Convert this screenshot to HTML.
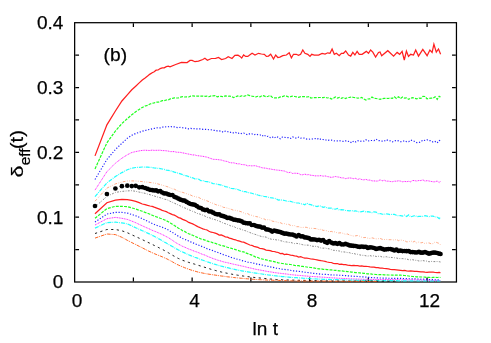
<!DOCTYPE html>
<html><head><meta charset="utf-8"><title>plot</title>
<style>
html,body{margin:0;padding:0;background:#fff;}
body{width:491px;height:343px;position:relative;overflow:hidden;font-family:"Liberation Sans",sans-serif;color:#000;}
svg{display:block;will-change:transform}
</style></head><body>
<svg width="491" height="343" viewBox="0 0 491 343" style="position:absolute;left:0;top:0"><rect width="491" height="343" fill="#fff"/><g stroke="#000" stroke-width="1.25" fill="none"><rect x="74.65" y="22.7" width="381.8" height="259.3"/><path d="M75.27 249.59h3.78M455.83 249.59h-3.78M75.27 217.18h3.78M455.83 217.18h-3.78M75.27 184.76h3.78M455.83 184.76h-3.78M75.27 152.35h3.78M455.83 152.35h-3.78M75.27 119.94h3.78M455.83 119.94h-3.78M75.27 87.52h3.78M455.83 87.52h-3.78M75.27 55.11h3.78M455.83 55.11h-3.78M133.39 281.38v-3.78M133.39 23.32v3.78M192.13 281.38v-3.78M192.13 23.32v3.78M250.87 281.38v-3.78M250.87 23.32v3.78M309.60 281.38v-3.78M309.60 23.32v3.78M368.34 281.38v-3.78M368.34 23.32v3.78M427.08 281.38v-3.78M427.08 23.32v3.78"/></g><path d="M95.0 155.9L106.9 124.8L115.4 111.0L121.9 101.0L127.3 94.8L131.8 89.8L135.7 86.2L139.2 82.9L142.3 80.0L145.1 78.0L147.6 76.1L150.0 74.1L152.2 72.7L154.2 71.7L156.1 70.2L158.1 70.0L160.2 68.6L162.2 67.9L164.2 67.9L166.3 66.7L168.3 66.2L170.0 66.8L175.7 64.5L181.4 62.4L187.1 62.5L190.0 60.4L192.1 60.4L195.0 61.7L198.5 61.1L202.8 59.5L204.9 58.3L207.4 60.3L211.4 58.5L215.6 58.3L218.5 57.5L221.6 59.5L225.6 58.5L228.2 56.8L232.0 58.5L234.9 55.4L238.0 55.2L240.0 56.4L241.7 58.1L243.6 55.0L245.7 56.4L247.8 56.4L250.0 54.7L252.1 53.3L255.0 55.0L258.5 53.3L261.4 54.0L264.3 54.3L266.4 56.4L268.5 56.1L270.7 54.3L273.5 59.0L275.7 55.0L277.8 57.5L279.9 57.1L282.8 55.7L286.4 55.0L289.2 52.8L291.4 57.8L293.5 54.3L296.3 54.3L298.5 55.4L300.6 54.3L302.8 50.0L304.9 53.3L307.8 54.3L310.0 56.4L311.7 54.3L314.3 55.0L318.6 55.0L322.1 53.5L325.0 54.0L327.8 52.8L330.0 53.3L332.1 49.0L334.3 54.3L336.4 53.3L339.2 55.7L341.4 53.3L343.5 53.3L345.7 51.0L348.5 55.0L350.7 56.1L352.8 52.4L354.9 55.0L357.1 51.4L359.2 54.3L362.1 54.3L366.3 51.4L368.5 53.3L370.6 50.0L372.8 52.1L375.6 57.1L378.5 52.4L380.0 51.9L381.7 55.7L387.8 50.7L393.6 56.1L397.1 52.4L399.7 54.3L402.1 51.4L404.3 60.0L406.4 51.0L408.5 56.4L410.7 54.3L413.5 55.0L415.7 50.0L418.5 56.1L422.8 49.3L427.1 55.7L429.9 50.0L432.1 52.4L433.9 44.3L436.3 52.1L438.5 49.0L440.6 54.3" fill="none" stroke-opacity="0.88" stroke="#ff0000" stroke-width="1.25"/><path d="M95.0 168.9L106.9 142.8L115.4 131.0L121.9 123.5L127.3 118.6L131.8 114.8L135.7 111.7L139.2 109.4L142.3 107.4L145.1 106.0L147.6 105.4L150.0 104.0L152.2 103.3L154.2 102.8L156.1 102.2L158.1 102.2L160.2 101.5L162.2 100.7L164.2 100.7L166.3 100.0L168.3 99.8L170.3 98.9L172.4 98.4L174.4 97.9L176.4 98.0L178.5 97.9L180.5 97.2L182.6 96.7L184.6 97.0L186.6 96.9L188.7 97.0L190.7 96.2L192.7 95.9L194.8 96.2L196.8 96.0L198.9 96.1L200.9 96.2L202.9 96.0L205.0 96.3L207.0 96.2L209.0 96.7L211.1 95.9L213.1 95.9L215.2 95.6L217.2 96.8L219.2 96.3L221.3 96.3L223.3 96.8L225.3 95.8L227.4 96.3L229.4 96.2L231.4 96.5L233.5 97.6L235.5 96.9L237.6 96.0L239.6 96.6L241.6 95.8L243.7 96.4L245.7 95.7L247.7 95.0L249.8 95.6L251.8 96.1L253.9 96.5L255.9 96.9L257.9 96.3L260.0 96.9L262.0 95.5L264.0 95.9L266.1 96.8L268.1 96.3L270.2 95.5L272.2 97.2L274.2 97.9L276.3 97.8L278.3 97.8L280.3 96.9L282.4 96.6L284.4 95.9L286.4 96.2L288.5 96.8L290.5 96.7L292.6 96.2L294.6 96.5L296.6 96.8L298.7 97.3L300.7 96.7L302.7 96.7L304.8 96.7L306.8 97.0L308.9 96.6L310.9 98.0L312.9 97.7L315.0 97.5L317.0 97.7L319.0 97.5L321.1 97.5L323.1 97.7L325.1 97.2L327.2 98.0L329.2 97.7L331.3 99.1L333.3 98.3L335.3 97.0L337.4 98.1L339.4 97.5L341.4 98.4L343.5 97.5L345.5 98.5L347.6 97.6L349.6 97.4L351.6 96.9L353.7 97.5L355.7 97.6L357.7 98.2L359.8 97.9L361.8 97.5L363.9 99.1L365.9 100.0L367.9 99.0L370.0 98.9L372.0 97.0L374.0 98.3L376.1 98.5L378.1 98.9L380.1 99.4L382.2 98.6L384.2 98.4L386.3 98.3L388.3 98.5L390.3 98.0L392.4 98.3L394.4 96.8L396.4 98.4L398.5 96.7L400.5 98.6L402.6 97.0L404.6 98.2L406.6 97.9L408.7 99.4L410.7 98.2L412.7 97.6L414.8 98.4L416.8 98.9L418.9 98.1L420.9 98.3L422.9 96.4L425.0 96.5L427.0 98.8L429.0 98.4L431.1 98.1L433.1 98.1L435.1 96.7L437.2 99.4L439.2 96.3L440.5 97.0" fill="none" stroke-opacity="0.88" stroke="#00ff00" stroke-width="1.2" stroke-dasharray="2.9 1.2"/><path d="M95.0 179.5L106.9 159.5L115.4 149.5L121.9 143.3L127.3 138.3L131.8 135.3L135.7 133.5L139.2 132.3L142.3 131.2L145.1 130.5L147.6 129.9L150.0 129.3L152.2 128.8L154.2 128.4L156.1 128.0L158.1 127.7L160.2 127.9L162.2 127.2L164.2 126.6L166.3 127.0L168.3 126.7L170.3 126.4L172.4 127.0L174.4 126.9L176.4 127.4L178.5 127.7L180.5 127.3L182.6 127.7L184.6 128.1L186.6 128.2L188.7 128.9L190.7 128.4L192.7 128.9L194.8 128.6L196.8 128.9L198.9 128.8L200.9 128.8L202.9 129.3L205.0 129.3L207.0 129.4L209.0 129.7L211.1 129.8L213.1 130.3L215.2 130.3L217.2 130.9L219.2 130.9L221.3 131.2L223.3 132.3L225.3 131.2L227.4 131.5L229.4 132.6L231.4 132.1L233.5 132.9L235.5 132.3L237.6 133.5L239.6 132.8L241.6 133.6L243.7 133.1L245.7 134.1L247.7 134.8L249.8 133.7L251.8 133.8L253.9 134.8L255.9 134.0L257.9 134.7L260.0 134.8L262.0 136.2L264.0 134.9L266.1 136.7L268.1 136.3L270.2 137.6L272.2 136.8L274.2 138.2L276.3 136.6L278.3 137.4L280.3 138.8L282.4 137.0L284.4 137.3L286.4 137.6L288.5 137.6L290.5 138.4L292.6 136.9L294.6 137.6L296.6 138.3L298.7 137.1L300.7 138.1L302.7 137.9L304.8 138.2L306.8 139.1L308.9 139.2L310.9 138.9L312.9 139.0L315.0 138.5L317.0 139.3L319.0 138.3L321.1 139.6L323.1 139.5L325.1 139.7L327.2 140.6L329.2 140.1L331.3 140.1L333.3 140.5L335.3 141.2L337.4 140.9L339.4 140.6L341.4 141.2L343.5 141.3L345.5 140.8L347.6 141.6L349.6 141.2L351.6 142.9L353.7 141.0L355.7 141.9L357.7 140.7L359.8 141.5L361.8 140.9L363.9 141.1L365.9 139.7L367.9 141.1L370.0 140.5L372.0 140.5L374.0 140.6L376.1 139.1L378.1 140.6L380.1 140.7L382.2 141.1L384.2 141.2L386.3 139.7L388.3 140.6L390.3 140.9L392.4 141.9L394.4 141.0L396.4 140.3L398.5 140.9L400.5 141.7L402.6 141.4L404.6 140.6L406.6 141.7L408.7 141.6L410.7 140.1L412.7 140.6L414.8 141.5L416.8 142.7L418.9 142.6L420.9 141.8L422.9 140.0L425.0 140.5L427.0 139.8L429.0 140.6L431.1 140.7L433.1 142.1L435.1 141.5L437.2 142.8L439.2 140.4L440.5 140.9" fill="none" stroke-opacity="0.88" stroke="#0000ff" stroke-width="1.15" stroke-dasharray="1.2 1.7"/><path d="M95.0 190.1L106.9 171.7L115.4 163.2L121.9 158.2L127.3 154.8L131.8 152.5L135.7 151.6L139.2 150.9L142.3 150.4L145.1 150.2L147.6 150.4L150.0 150.5L152.2 150.1L154.2 150.4L156.1 150.3L158.1 150.3L160.2 150.2L162.2 150.6L164.2 150.6L166.3 150.8L168.3 151.1L170.3 151.6L172.4 151.6L174.4 151.6L176.4 152.2L178.5 152.3L180.5 152.4L182.6 152.9L184.6 153.2L186.6 153.7L188.7 154.1L190.7 154.5L192.7 155.0L194.8 154.9L196.8 155.6L198.9 155.8L200.9 156.1L202.9 156.3L205.0 156.8L207.0 157.1L209.0 157.9L211.1 158.6L213.1 159.3L215.2 159.4L217.2 159.5L219.2 159.8L221.3 160.0L223.3 160.7L225.3 161.2L227.4 161.5L229.4 162.5L231.4 162.8L233.5 162.8L235.5 163.3L237.6 163.9L239.6 163.8L241.6 164.5L243.7 164.7L245.7 164.9L247.7 165.9L249.8 165.6L251.8 165.9L253.9 165.7L255.9 165.8L257.9 166.6L260.0 167.0L262.0 167.8L264.0 168.0L266.1 168.2L268.1 168.8L270.2 168.9L272.2 169.4L274.2 169.7L276.3 170.0L278.3 170.2L280.3 170.4L282.4 170.8L284.4 171.0L286.4 171.9L288.5 172.7L290.5 172.2L292.6 173.5L294.6 173.2L296.6 173.3L298.7 173.5L300.7 174.7L302.7 174.8L304.8 174.1L306.8 174.8L308.9 174.6L310.9 175.3L312.9 175.4L315.0 175.9L317.0 175.8L319.0 175.9L321.1 175.6L323.1 176.2L325.1 175.9L327.2 176.5L329.2 176.9L331.3 177.4L333.3 177.0L335.3 176.5L337.4 176.9L339.4 177.2L341.4 177.9L343.5 177.9L345.5 178.6L347.6 178.2L349.6 177.9L351.6 178.2L353.7 178.7L355.7 178.3L357.7 179.5L359.8 178.7L361.8 179.6L363.9 179.9L365.9 179.3L367.9 180.2L370.0 180.0L372.0 180.9L374.0 180.9L376.1 181.1L378.1 181.0L380.1 179.8L382.2 180.8L384.2 180.2L386.3 181.2L388.3 181.1L390.3 181.5L392.4 181.7L394.4 181.2L396.4 181.2L398.5 180.8L400.5 181.1L402.6 181.8L404.6 181.4L406.6 181.7L408.7 181.3L410.7 181.8L412.7 180.4L414.8 180.7L416.8 181.0L418.9 180.5L420.9 180.6L422.9 179.8L425.0 181.2L427.0 180.6L429.0 181.0L431.1 181.4L433.1 181.8L435.1 181.8L437.2 181.0L439.2 182.6L440.5 181.1" fill="none" stroke-opacity="0.88" stroke="#ff00ff" stroke-width="1.0" stroke-dasharray="1 0.7"/><path d="M95.0 196.6L106.9 182.9L115.4 176.6L121.9 172.6L127.3 169.8L131.8 168.1L135.7 167.5L139.2 167.3L142.3 167.0L145.1 167.1L147.6 167.2L150.0 167.3L152.2 167.5L154.2 168.0L156.1 168.1L158.1 168.3L160.2 168.6L162.2 169.0L164.2 169.4L166.3 170.1L168.3 170.3L170.3 170.8L172.4 171.4L174.4 172.1L176.4 172.7L178.5 173.3L180.5 173.9L182.6 174.6L184.6 175.6L186.6 175.8L188.7 176.6L190.7 177.4L192.7 177.8L194.8 178.9L196.8 178.8L198.9 179.3L200.9 180.7L202.9 180.7L205.0 181.3L207.0 181.6L209.0 181.9L211.1 182.7L213.1 183.6L215.2 183.8L217.2 184.2L219.2 184.6L221.3 185.1L223.3 185.8L225.3 186.6L227.4 187.0L229.4 187.7L231.4 188.5L233.5 188.6L235.5 188.8L237.6 189.5L239.6 190.2L241.6 191.0L243.7 191.6L245.7 191.5L247.7 192.7L249.8 192.7L251.8 193.3L253.9 194.0L255.9 194.3L257.9 195.0L260.0 195.6L262.0 195.9L264.0 196.4L266.1 196.7L268.1 197.2L270.2 197.7L272.2 197.9L274.2 198.3L276.3 198.8L278.3 200.1L280.3 199.8L282.4 200.1L284.4 200.5L286.4 201.0L288.5 201.5L290.5 201.4L292.6 202.0L294.6 202.5L296.6 202.9L298.7 203.0L300.7 203.8L302.7 203.9L304.8 204.8L306.8 203.2L308.9 204.4L310.9 204.6L312.9 205.6L315.0 206.0L317.0 206.6L319.0 205.8L321.1 206.2L323.1 207.3L325.1 206.8L327.2 208.1L329.2 208.0L331.3 208.2L333.3 209.2L335.3 209.2L337.4 208.4L339.4 210.1L341.4 209.6L343.5 209.8L345.5 210.5L347.6 210.6L349.6 210.8L351.6 210.6L353.7 211.1L355.7 210.8L357.7 211.6L359.8 212.0L361.8 211.6L363.9 211.2L365.9 212.0L367.9 211.7L370.0 212.1L372.0 212.7L374.0 211.8L376.1 212.1L378.1 213.6L380.1 213.5L382.2 214.1L384.2 214.3L386.3 213.8L388.3 214.1L390.3 214.6L392.4 214.3L394.4 214.4L396.4 215.3L398.5 215.8L400.5 215.6L402.6 216.1L404.6 215.1L406.6 216.4L408.7 214.9L410.7 216.9L412.7 216.2L414.8 215.6L416.8 216.6L418.9 216.4L420.9 216.4L422.9 216.3L425.0 215.7L427.0 216.1L429.0 216.7L431.1 216.0L433.1 216.2L435.1 217.0L437.2 216.9L439.2 218.7L440.5 217.3" fill="none" stroke-opacity="0.88" stroke="#00ffff" stroke-width="1.2" stroke-dasharray="4 1 0.8 1"/><path d="M95.0 201.2L106.9 188.1L115.4 183.9L121.9 182.0L127.3 181.0L131.8 180.9L135.7 181.0L139.2 181.3L142.3 181.6L145.1 182.0L147.6 182.1L150.0 182.5L152.2 182.7L154.2 183.1L156.1 183.4L158.1 184.0L160.2 184.5L162.2 185.2L164.2 185.7L166.3 186.4L168.3 187.0L170.3 187.9L172.4 188.8L174.4 189.2L176.4 190.3L178.5 191.2L180.5 191.9L182.6 192.4L184.6 193.0L186.6 193.7L188.7 194.4L190.7 195.1L192.7 196.1L194.8 196.5L196.8 197.1L198.9 197.5L200.9 198.7L202.9 199.6L205.0 200.0L207.0 200.9L209.0 201.6L211.1 202.9L213.1 203.3L215.2 204.4L217.2 205.1L219.2 205.5L221.3 206.1L223.3 207.3L225.3 207.6L227.4 208.1L229.4 208.8L231.4 209.4L233.5 210.2L235.5 210.3L237.6 210.8L239.6 211.3L241.6 211.9L243.7 212.8L245.7 213.9L247.7 213.6L249.8 215.0L251.8 215.3L253.9 216.2L255.9 216.5L257.9 216.9L260.0 217.5L262.0 218.8L264.0 218.8L266.1 220.1L268.1 219.6L270.2 220.0L272.2 221.1L274.2 221.5L276.3 221.8L278.3 222.6L280.3 222.7L282.4 223.7L284.4 223.6L286.4 224.3L288.5 224.3L290.5 225.3L292.6 225.6L294.6 225.6L296.6 226.7L298.7 226.7L300.7 227.4L302.7 227.5L304.8 227.2L306.8 227.4L308.9 228.2L310.9 228.3L312.9 228.4L315.0 228.5L317.0 228.8L319.0 229.7L321.1 229.2L323.1 230.4L325.1 230.3L327.2 230.9L329.2 231.8L331.3 231.4L333.3 232.0L335.3 231.8L337.4 233.1L339.4 232.9L341.4 232.8L343.5 233.6L345.5 234.3L347.6 234.0L349.6 235.1L351.6 235.6L353.7 236.1L355.7 235.8L357.7 235.5L359.8 236.2L361.8 237.3L363.9 237.6L365.9 237.5L367.9 238.2L370.0 238.5L372.0 237.8L374.0 238.4L376.1 238.9L378.1 238.7L380.1 238.4L382.2 239.3L384.2 239.5L386.3 239.4L388.3 239.7L390.3 239.7L392.4 239.7L394.4 240.2L396.4 239.4L398.5 240.7L400.5 239.9L402.6 240.4L404.6 240.7L406.6 241.8L408.7 241.9L410.7 240.7L412.7 242.1L414.8 241.3L416.8 243.0L418.9 242.0L420.9 242.9L422.9 242.4L425.0 243.7L427.0 242.9L429.0 242.9L431.1 243.8L433.1 243.6L435.1 241.8L437.2 242.7L439.2 243.4L440.5 244.8" fill="none" stroke-opacity="0.88" stroke="#ff6a2a" stroke-width="0.65" stroke-dasharray="2.8 1.5 0.7 1.5 0.7 1.5"/><path d="M95.0 206.9L106.9 196.4L115.4 192.4L121.9 191.4L127.3 190.9L131.8 190.7L135.7 191.3L139.2 192.1L142.3 192.8L145.1 193.3L147.6 194.1L150.0 194.7L152.2 195.4L154.2 196.0L156.1 196.6L158.1 197.2L160.2 197.7L162.2 198.3L164.2 199.2L166.3 199.5L168.3 200.3L170.3 201.4L172.4 202.3L174.4 203.2L176.4 204.1L178.5 205.1L180.5 206.0L182.6 207.1L184.6 207.9L186.6 208.7L188.7 209.7L190.7 210.5L192.7 211.4L194.8 212.1L196.8 213.4L198.9 213.8L200.9 214.4L202.9 215.2L205.0 216.1L207.0 217.3L209.0 217.6L211.1 218.4L213.1 219.2L215.2 219.7L217.2 220.5L219.2 221.1L221.3 222.1L223.3 223.1L225.3 223.7L227.4 224.4L229.4 225.3L231.4 226.2L233.5 226.3L235.5 227.5L237.6 228.4L239.6 228.7L241.6 229.6L243.7 230.3L245.7 230.8L247.7 231.7L249.8 232.5L251.8 233.3L253.9 234.0L255.9 234.6L257.9 235.4L260.0 236.0L262.0 236.7L264.0 236.8L266.1 237.1L268.1 238.2L270.2 238.9L272.2 239.4L274.2 239.4L276.3 239.9L278.3 239.9L280.3 240.7L282.4 241.1L284.4 241.9L286.4 241.9L288.5 242.4L290.5 242.4L292.6 243.0L294.6 243.6L296.6 243.4L298.7 243.7L300.7 244.2L302.7 244.7L304.8 245.1L306.8 245.1L308.9 245.2L310.9 245.8L312.9 246.3L315.0 246.3L317.0 246.4L319.0 247.3L321.1 248.1L323.1 248.2L325.1 248.0L327.2 248.6L329.2 248.8L331.3 249.6L333.3 250.3L335.3 250.4L337.4 250.8L339.4 251.0L341.4 251.9L343.5 251.9L345.5 252.1L347.6 252.6L349.6 252.7L351.6 253.5L353.7 253.5L355.7 254.1L357.7 254.3L359.8 254.9L361.8 255.3L363.9 255.3L365.9 255.8L367.9 256.1L370.0 255.6L372.0 256.2L374.0 255.7L376.1 256.5L378.1 256.3L380.1 256.2L382.2 257.0L384.2 257.0L386.3 256.7L388.3 257.3L390.3 257.4L392.4 257.5L394.4 257.8L396.4 258.0L398.5 258.5L400.5 258.6L402.6 258.6L404.6 258.9L406.6 259.0L408.7 259.7L410.7 259.9L412.7 259.7L414.8 260.3L416.8 260.3L418.9 261.0L420.9 260.9L422.9 260.6L425.0 261.0L427.0 261.1L429.0 261.8L431.1 261.4L433.1 261.6L435.1 261.6L437.2 261.5L439.2 261.7L440.5 262.0" fill="none" stroke-opacity="0.88" stroke="#666666" stroke-width="0.9" stroke-dasharray="1.8 1.4 0.8 1.4"/><path d="M95.0 213.8L106.9 202.7L115.4 200.2L121.9 199.3L127.3 199.6L131.8 200.4L135.7 201.4L139.2 202.7L142.3 204.0L145.1 204.6L147.6 205.4L150.0 206.0L152.2 206.4L154.2 207.2L156.1 207.8L158.1 208.6L160.2 209.4L162.2 210.3L164.2 211.0L166.3 211.7L168.3 212.7L170.3 213.6L172.4 214.6L174.4 215.2L176.4 216.2L178.5 217.6L180.5 218.2L182.6 219.4L184.6 220.2L186.6 221.0L188.7 222.4L190.7 223.2L192.7 223.9L194.8 225.0L196.8 226.1L198.9 227.2L200.9 228.0L202.9 228.9L205.0 229.5L207.0 230.0L209.0 231.2L211.1 232.2L213.1 232.5L215.2 233.2L217.2 233.9L219.2 235.1L221.3 235.0L223.3 235.8L225.3 236.8L227.4 237.2L229.4 238.1L231.4 238.7L233.5 239.3L235.5 239.8L237.6 240.7L239.6 241.2L241.6 241.8L243.7 242.2L245.7 243.1L247.7 244.0L249.8 245.0L251.8 245.3L253.9 246.4L255.9 246.9L257.9 247.4L260.0 248.5L262.0 248.6L264.0 249.1L266.1 250.1L268.1 250.3L270.2 250.6L272.2 251.4L274.2 251.5L276.3 252.1L278.3 252.5L280.3 253.6L282.4 253.5L284.4 254.5L286.4 254.2L288.5 254.5L290.5 255.2L292.6 255.3L294.6 255.8L296.6 256.2L298.7 257.0L300.7 256.7L302.7 257.5L304.8 258.1L306.8 258.2L308.9 258.5L310.9 259.0L312.9 259.2L315.0 259.5L317.0 259.9L319.0 260.3L321.1 260.7L323.1 261.0L325.1 261.3L327.2 262.0L329.2 262.3L331.3 262.5L333.3 263.3L335.3 263.5L337.4 263.5L339.4 264.4L341.4 264.2L343.5 264.7L345.5 264.7L347.6 265.1L349.6 265.3L351.6 265.6L353.7 265.4L355.7 265.7L357.7 265.6L359.8 266.1L361.8 265.9L363.9 266.3L365.9 266.3L367.9 266.5L370.0 266.9L372.0 267.1L374.0 267.1L376.1 267.7L378.1 267.7L380.1 268.2L382.2 268.2L384.2 268.5L386.3 268.7L388.3 268.9L390.3 269.3L392.4 269.6L394.4 269.7L396.4 269.9L398.5 270.1L400.5 270.4L402.6 270.7L404.6 270.5L406.6 270.9L408.7 271.2L410.7 271.0L412.7 271.2L414.8 271.4L416.8 271.4L418.9 271.6L420.9 271.8L422.9 271.9L425.0 272.2L427.0 272.3L429.0 272.2L431.1 272.1L433.1 272.2L435.1 272.5L437.2 272.6L439.2 272.5L440.5 272.6" fill="none" stroke-opacity="0.88" stroke="#ff0000" stroke-width="1.25"/><path d="M95.0 218.3L106.9 208.6L115.4 206.3L121.9 206.4L127.3 206.7L131.8 207.9L135.7 209.0L139.2 210.3L142.3 211.3L145.1 212.4L147.6 213.3L150.0 214.3L152.2 215.2L154.2 216.0L156.1 216.7L158.1 217.4L160.2 218.2L162.2 218.9L164.2 219.8L166.3 220.7L168.3 221.8L170.3 222.9L172.4 224.2L174.4 225.6L176.4 226.8L178.5 228.2L180.5 229.2L182.6 230.8L184.6 231.4L186.6 232.7L188.7 233.7L190.7 234.5L192.7 235.3L194.8 236.3L196.8 237.1L198.9 237.8L200.9 239.0L202.9 239.4L205.0 240.1L207.0 240.9L209.0 241.6L211.1 242.0L213.1 242.9L215.2 243.3L217.2 244.1L219.2 244.7L221.3 245.5L223.3 245.9L225.3 246.4L227.4 247.2L229.4 247.8L231.4 248.3L233.5 249.0L235.5 249.6L237.6 250.3L239.6 251.0L241.6 251.7L243.7 251.9L245.7 252.9L247.7 253.6L249.8 254.4L251.8 255.1L253.9 256.1L255.9 257.2L257.9 257.5L260.0 258.6L262.0 259.0L264.0 259.4L266.1 259.8L268.1 260.5L270.2 260.9L272.2 261.3L274.2 261.7L276.3 262.3L278.3 262.8L280.3 263.1L282.4 263.5L284.4 263.8L286.4 264.1L288.5 264.3L290.5 264.5L292.6 264.9L294.6 265.4L296.6 265.6L298.7 265.7L300.7 266.3L302.7 266.4L304.8 266.7L306.8 267.0L308.9 267.4L310.9 267.5L312.9 267.8L315.0 268.2L317.0 268.5L319.0 268.9L321.1 268.9L323.1 269.3L325.1 269.3L327.2 269.6L329.2 269.8L331.3 269.9L333.3 270.2L335.3 270.4L337.4 270.5L339.4 270.8L341.4 270.9L343.5 271.2L345.5 271.4L347.6 271.6L349.6 271.9L351.6 272.1L353.7 272.3L355.7 272.6L357.7 272.7L359.8 272.9L361.8 273.2L363.9 273.3L365.9 273.6L367.9 273.9L370.0 273.9L372.0 274.2L374.0 274.3L376.1 274.5L378.1 274.6L380.1 274.7L382.2 274.7L384.2 274.8L386.3 274.9L388.3 275.0L390.3 275.0L392.4 275.1L394.4 275.0L396.4 275.2L398.5 275.1L400.5 275.2L402.6 275.3L404.6 275.5L406.6 275.7L408.7 276.0L410.7 276.4L412.7 276.5L414.8 276.6L416.8 276.8L418.9 276.9L420.9 277.0L422.9 277.0L425.0 277.1L427.0 277.4L429.0 277.3L431.1 277.6L433.1 277.4L435.1 277.4L437.2 277.5L439.2 277.4L440.5 277.5" fill="none" stroke-opacity="0.88" stroke="#00ff00" stroke-width="1.2" stroke-dasharray="2.9 1.2"/><path d="M95.0 222.0L106.9 214.1L115.4 212.3L121.9 212.4L127.3 213.1L131.8 214.5L135.7 215.8L139.2 217.2L142.3 218.8L145.1 220.1L147.6 221.3L150.0 222.4L152.2 223.4L154.2 224.3L156.1 225.1L158.1 225.8L160.2 226.5L162.2 227.2L164.2 228.0L166.3 229.0L168.3 229.9L170.3 231.2L172.4 232.4L174.4 233.8L176.4 234.9L178.5 236.3L180.5 237.2L182.6 238.4L184.6 239.3L186.6 240.0L188.7 241.1L190.7 241.9L192.7 242.7L194.8 243.7L196.8 244.5L198.9 245.2L200.9 246.0L202.9 247.0L205.0 247.6L207.0 248.7L209.0 249.3L211.1 250.0L213.1 250.7L215.2 251.6L217.2 252.2L219.2 253.0L221.3 253.9L223.3 254.6L225.3 255.1L227.4 256.1L229.4 256.6L231.4 257.5L233.5 258.0L235.5 258.7L237.6 259.3L239.6 259.8L241.6 260.6L243.7 260.9L245.7 261.5L247.7 262.1L249.8 262.3L251.8 262.8L253.9 263.2L255.9 263.8L257.9 264.2L260.0 264.6L262.0 265.0L264.0 265.6L266.1 266.0L268.1 266.4L270.2 266.9L272.2 267.3L274.2 267.6L276.3 268.1L278.3 268.4L280.3 268.9L282.4 269.2L284.4 269.4L286.4 269.7L288.5 269.9L290.5 270.3L292.6 270.8L294.6 270.8L296.6 271.1L298.7 271.3L300.7 271.6L302.7 271.9L304.8 272.2L306.8 272.4L308.9 272.7L310.9 273.0L312.9 273.3L315.0 273.5L317.0 273.7L319.0 273.9L321.1 274.2L323.1 274.3L325.1 274.4L327.2 274.5L329.2 274.7L331.3 274.9L333.3 275.0L335.3 275.0L337.4 275.1L339.4 275.2L341.4 275.4L343.5 275.5L345.5 275.6L347.6 275.8L349.6 275.9L351.6 276.1L353.7 276.2L355.7 276.4L357.7 276.5L359.8 276.7L361.8 276.8L363.9 276.9L365.9 277.1L367.9 277.4L370.0 277.4L372.0 277.6L374.0 277.7L376.1 277.9L378.1 277.9L380.1 278.0L382.2 278.1L384.2 278.1L386.3 278.1L388.3 278.2L390.3 278.3L392.4 278.3L394.4 278.3L396.4 278.4L398.5 278.4L400.5 278.4L402.6 278.5L404.6 278.6L406.6 278.6L408.7 278.7L410.7 278.8L412.7 278.9L414.8 278.9L416.8 279.0L418.9 279.1L420.9 279.2L422.9 279.1L425.0 279.4L427.0 279.4L429.0 279.5L431.1 279.6L433.1 279.7L435.1 279.8L437.2 279.9L439.2 279.9L440.5 280.1" fill="none" stroke-opacity="0.88" stroke="#0000ff" stroke-width="1.15" stroke-dasharray="1.2 1.7"/><path d="M95.0 225.0L106.9 218.7L115.4 217.4L121.9 218.3L127.3 219.4L131.8 221.1L135.7 222.7L139.2 224.4L142.3 225.8L145.1 227.1L147.6 228.2L150.0 229.2L152.2 230.3L154.2 231.1L156.1 231.8L158.1 232.7L160.2 233.6L162.2 234.5L164.2 235.5L166.3 236.6L168.3 237.6L170.3 238.9L172.4 240.3L174.4 241.7L176.4 243.0L178.5 244.2L180.5 245.2L182.6 246.4L184.6 247.1L186.6 248.1L188.7 249.0L190.7 249.7L192.7 250.5L194.8 251.4L196.8 252.0L198.9 252.8L200.9 253.7L202.9 254.5L205.0 255.1L207.0 256.1L209.0 257.0L211.1 257.7L213.1 258.6L215.2 259.2L217.2 260.0L219.2 260.5L221.3 261.2L223.3 261.8L225.3 262.3L227.4 262.7L229.4 263.2L231.4 263.7L233.5 264.2L235.5 264.6L237.6 265.1L239.6 265.5L241.6 266.0L243.7 266.4L245.7 266.9L247.7 267.5L249.8 267.9L251.8 268.3L253.9 268.9L255.9 269.3L257.9 269.7L260.0 270.0L262.0 270.4L264.0 270.8L266.1 271.2L268.1 271.6L270.2 271.9L272.2 272.1L274.2 272.6L276.3 272.8L278.3 273.1L280.3 273.3L282.4 273.6L284.4 273.8L286.4 274.0L288.5 274.3L290.5 274.6L292.6 274.8L294.6 275.0L296.6 275.2L298.7 275.4L300.7 275.5L302.7 275.7L304.8 275.9L306.8 276.1L308.9 276.2L310.9 276.4L312.9 276.5L315.0 276.7L317.0 276.8L319.0 276.9L321.1 277.1L323.1 277.2L325.1 277.3L327.2 277.5L329.2 277.6L331.3 277.8L333.3 277.9L335.3 278.0L337.4 278.2L339.4 278.3L341.4 278.4L343.5 278.5L345.5 278.6L347.6 278.7L349.6 278.8L351.6 278.9L353.7 279.0L355.7 279.0L357.7 279.1L359.8 279.2L361.8 279.2L363.9 279.3L365.9 279.3L367.9 279.3L370.0 279.4L372.0 279.4L374.0 279.4L376.1 279.4L378.1 279.5L380.1 279.5L382.2 279.5L384.2 279.6L386.3 279.5L388.3 279.5L390.3 279.5L392.4 279.5L394.4 279.6L396.4 279.6L398.5 279.7L400.5 279.7L402.6 279.8L404.6 279.7L406.6 279.8L408.7 279.9L410.7 279.8L412.7 279.9L414.8 279.9L416.8 280.0L418.9 280.0L420.9 280.1L422.9 280.1L425.0 280.2L427.0 280.2L429.0 280.2L431.1 280.3L433.1 280.4L435.1 280.3L437.2 280.4L439.2 280.5L440.5 280.5" fill="none" stroke-opacity="0.88" stroke="#ff00ff" stroke-width="1.0" stroke-dasharray="1 0.7"/><path d="M95.0 228.1L106.9 222.6L115.4 222.2L121.9 222.9L127.3 223.9L131.8 225.9L135.7 227.8L139.2 229.3L142.3 230.7L145.1 231.9L147.6 233.1L150.0 234.2L152.2 235.3L154.2 236.2L156.1 237.3L158.1 238.5L160.2 239.5L162.2 240.8L164.2 241.9L166.3 243.1L168.3 244.3L170.3 245.4L172.4 246.6L174.4 247.7L176.4 248.9L178.5 250.0L180.5 251.1L182.6 252.0L184.6 252.9L186.6 253.9L188.7 254.8L190.7 255.6L192.7 256.4L194.8 257.3L196.8 257.9L198.9 258.8L200.9 259.6L202.9 260.3L205.0 261.0L207.0 261.7L209.0 262.4L211.1 263.1L213.1 263.8L215.2 264.4L217.2 265.0L219.2 265.6L221.3 266.2L223.3 266.7L225.3 267.2L227.4 267.7L229.4 268.2L231.4 268.7L233.5 269.2L235.5 269.6L237.6 270.0L239.6 270.4L241.6 270.8L243.7 271.2L245.7 271.5L247.7 271.8L249.8 272.2L251.8 272.5L253.9 272.8L255.9 273.1L257.9 273.4L260.0 273.7L262.0 274.0L264.0 274.3L266.1 274.6L268.1 274.9L270.2 275.1L272.2 275.4L274.2 275.7L276.3 275.9L278.3 276.1L280.3 276.4L282.4 276.6L284.4 276.7L286.4 276.9L288.5 277.1L290.5 277.3L292.6 277.5L294.6 277.6L296.6 277.7L298.7 277.9L300.7 278.0L302.7 278.2L304.8 278.3L306.8 278.4L308.9 278.6L310.9 278.7L312.9 278.8L315.0 278.9L317.0 279.0L319.0 279.1L321.1 279.2L323.1 279.3L325.1 279.3L327.2 279.4L329.2 279.4L331.3 279.5L333.3 279.5L335.3 279.6L337.4 279.6L339.4 279.7L341.4 279.7L343.5 279.8L345.5 279.9L347.6 280.0L349.6 280.0L351.6 280.1L353.7 280.2L355.7 280.2L357.7 280.3L359.8 280.3L361.8 280.3L363.9 280.3L365.9 280.4L367.9 280.4L370.0 280.4L372.0 280.5L374.0 280.5L376.1 280.5L378.1 280.6L380.1 280.6L382.2 280.6L384.2 280.6L386.3 280.7L388.3 280.7L390.3 280.6L392.4 280.7L394.4 280.8L396.4 280.7L398.5 280.8L400.5 280.8L402.6 280.8L404.6 280.8L406.6 280.9L408.7 280.9L410.7 280.9L412.7 280.9L414.8 280.9L416.8 280.9L418.9 281.0L420.9 281.0L422.9 280.9L425.0 281.0L427.0 281.0L429.0 281.0L431.1 281.0L433.1 281.0L435.1 281.0L437.2 280.9L439.2 281.0L440.5 281.0" fill="none" stroke-opacity="0.88" stroke="#00ffff" stroke-width="1.2" stroke-dasharray="4 1 0.8 1"/><path d="M95.0 233.5L106.9 229.5L115.4 229.5L121.9 230.8L127.3 232.7L131.8 234.8L135.7 236.6L139.2 238.2L142.3 239.6L145.1 241.0L147.6 242.2L150.0 243.3L152.2 244.4L154.2 245.4L156.1 246.3L158.1 247.3L160.2 248.4L162.2 249.3L164.2 250.4L166.3 251.5L168.3 252.7L170.3 253.9L172.4 255.2L174.4 256.3L176.4 257.5L178.5 258.5L180.5 259.4L182.6 260.3L184.6 261.0L186.6 261.7L188.7 262.4L190.7 263.0L192.7 263.6L194.8 264.2L196.8 264.9L198.9 265.5L200.9 266.1L202.9 266.7L205.0 267.4L207.0 268.0L209.0 268.6L211.1 269.3L213.1 269.9L215.2 270.4L217.2 271.0L219.2 271.5L221.3 272.0L223.3 272.4L225.3 272.9L227.4 273.3L229.4 273.7L231.4 274.1L233.5 274.5L235.5 274.8L237.6 275.2L239.6 275.5L241.6 275.8L243.7 276.1L245.7 276.4L247.7 276.6L249.8 276.9L251.8 277.1L253.9 277.4L255.9 277.6L257.9 277.8L260.0 278.0L262.0 278.2L264.0 278.4L266.1 278.6L268.1 278.8L270.2 279.0L272.2 279.2L274.2 279.3L276.3 279.5L278.3 279.6L280.3 279.7L282.4 279.8L284.4 279.9L286.4 280.0L288.5 280.0L290.5 280.1L292.6 280.1L294.6 280.2L296.6 280.2L298.7 280.3L300.7 280.3L302.7 280.3L304.8 280.4L306.8 280.5L308.9 280.5L310.9 280.5L312.9 280.6L315.0 280.6L317.0 280.7L319.0 280.7L321.1 280.8L323.1 280.8L325.1 280.8L327.2 280.9L329.2 280.9L331.3 280.9L333.3 281.0L335.3 281.0L337.4 281.0L339.4 281.0L341.4 281.0L343.5 281.0L345.5 281.0L347.6 281.1L349.6 281.1L351.6 281.1L353.7 281.1L355.7 281.1L357.7 281.1L359.8 281.1L361.8 281.1L363.9 281.1L365.9 281.1L367.9 281.1L370.0 281.1L372.0 281.1L374.0 281.1L376.1 281.2L378.1 281.2L380.1 281.2L382.2 281.2L384.2 281.2L386.3 281.2L388.3 281.2L390.3 281.2L392.4 281.2L394.4 281.2L396.4 281.3L398.5 281.3" fill="none" stroke-opacity="0.88" stroke="#000000" stroke-width="1.0" stroke-dasharray="2.2 3.4"/><path d="M95.0 238.1L106.9 234.0L115.4 234.6L121.9 237.3L127.3 240.3L131.8 242.6L135.7 244.5L139.2 246.3L142.3 247.8L145.1 249.3L147.6 250.6L150.0 251.7L152.2 252.7L154.2 253.6L156.1 254.4L158.1 255.2L160.2 256.0L162.2 256.8L164.2 257.7L166.3 258.6L168.3 259.6L170.3 260.7L172.4 261.8L174.4 263.0L176.4 264.1L178.5 265.1L180.5 266.0L182.6 266.8L184.6 267.7L186.6 268.4L188.7 269.2L190.7 269.9L192.7 270.5L194.8 271.1L196.8 271.7L198.9 272.3L200.9 272.7L202.9 273.1L205.0 273.5L207.0 273.9L209.0 274.2L211.1 274.5L213.1 274.8L215.2 275.1L217.2 275.4L219.2 275.7L221.3 276.0L223.3 276.2L225.3 276.5L227.4 276.8L229.4 277.0L231.4 277.2L233.5 277.5L235.5 277.7L237.6 277.9L239.6 278.1L241.6 278.3L243.7 278.5L245.7 278.7L247.7 278.8L249.8 279.0L251.8 279.2L253.9 279.3L255.9 279.5L257.9 279.6L260.0 279.7L262.0 279.8L264.0 279.9L266.1 280.0L268.1 280.1L270.2 280.2L272.2 280.2L274.2 280.3L276.3 280.4L278.3 280.4L280.3 280.5L282.4 280.6L284.4 280.6L286.4 280.7L288.5 280.8L290.5 280.8L292.6 280.9L294.6 280.9L296.6 281.0L298.7 281.0L300.7 281.0L302.7 281.0L304.8 281.0L306.8 281.0L308.9 281.1L310.9 281.1L312.9 281.1L315.0 281.1L317.0 281.1L319.0 281.1L321.1 281.1L323.1 281.1L325.1 281.1L327.2 281.1L329.2 281.1L331.3 281.2L333.3 281.2L335.3 281.2L337.4 281.2L339.4 281.2L341.4 281.2L343.5 281.2L345.5 281.2L347.6 281.3L349.6 281.3L351.6 281.3L353.7 281.3L355.7 281.3L357.7 281.3L359.8 281.3L361.8 281.3L363.9 281.3L365.9 281.3L367.9 281.3L370.0 281.3L372.0 281.3L374.0 281.3L376.1 281.3L378.1 281.3" fill="none" stroke-opacity="0.88" stroke="#ff4d00" stroke-width="1.0" stroke-dasharray="3.5 1 0.9 1"/><g fill="#000"><circle cx="95.0" cy="206.0" r="2.35"/><circle cx="106.9" cy="194.0" r="2.35"/><circle cx="115.4" cy="188.5" r="2.35"/><circle cx="121.9" cy="186.2" r="2.35"/><circle cx="127.3" cy="185.7" r="2.35"/><circle cx="131.8" cy="186.1" r="2.35"/><circle cx="135.7" cy="185.8" r="2.35"/><circle cx="139.2" cy="187.3" r="2.35"/><circle cx="142.3" cy="187.2" r="2.35"/><circle cx="145.1" cy="188.0" r="2.35"/><circle cx="147.6" cy="188.9" r="2.35"/><circle cx="150.0" cy="189.8" r="2.35"/><circle cx="152.2" cy="190.1" r="2.35"/><circle cx="154.2" cy="190.5" r="2.35"/><circle cx="156.1" cy="190.3" r="2.35"/><circle cx="158.1" cy="191.3" r="2.35"/><circle cx="160.2" cy="191.1" r="2.35"/><circle cx="162.2" cy="192.5" r="2.35"/><circle cx="164.2" cy="193.4" r="2.35"/><circle cx="166.3" cy="193.5" r="2.35"/><circle cx="168.3" cy="194.4" r="2.35"/><circle cx="170.3" cy="195.0" r="2.35"/><circle cx="172.4" cy="195.1" r="2.35"/><circle cx="174.4" cy="196.8" r="2.35"/><circle cx="176.4" cy="197.6" r="2.35"/><circle cx="178.5" cy="198.7" r="2.35"/><circle cx="180.5" cy="199.7" r="2.35"/><circle cx="182.6" cy="200.3" r="2.35"/><circle cx="184.6" cy="200.7" r="2.35"/><circle cx="186.6" cy="201.9" r="2.35"/><circle cx="188.7" cy="203.1" r="2.35"/><circle cx="190.7" cy="204.0" r="2.35"/><circle cx="192.7" cy="204.4" r="2.35"/><circle cx="194.8" cy="204.8" r="2.35"/><circle cx="196.8" cy="206.1" r="2.35"/><circle cx="198.9" cy="207.5" r="2.35"/><circle cx="200.9" cy="208.0" r="2.35"/><circle cx="202.9" cy="209.4" r="2.35"/><circle cx="205.0" cy="210.1" r="2.35"/><circle cx="207.0" cy="209.9" r="2.35"/><circle cx="209.0" cy="211.3" r="2.35"/><circle cx="211.1" cy="211.6" r="2.35"/><circle cx="213.1" cy="212.7" r="2.35"/><circle cx="215.2" cy="213.8" r="2.35"/><circle cx="217.2" cy="214.3" r="2.35"/><circle cx="219.2" cy="214.4" r="2.35"/><circle cx="221.3" cy="215.7" r="2.35"/><circle cx="223.3" cy="216.2" r="2.35"/><circle cx="225.3" cy="216.8" r="2.35"/><circle cx="227.4" cy="217.9" r="2.35"/><circle cx="229.4" cy="217.9" r="2.35"/><circle cx="231.4" cy="218.7" r="2.35"/><circle cx="233.5" cy="219.6" r="2.35"/><circle cx="235.5" cy="219.8" r="2.35"/><circle cx="237.6" cy="220.3" r="2.35"/><circle cx="239.6" cy="220.6" r="2.35"/><circle cx="241.6" cy="221.3" r="2.35"/><circle cx="243.7" cy="222.7" r="2.35"/><circle cx="245.7" cy="223.1" r="2.35"/><circle cx="247.7" cy="223.3" r="2.35"/><circle cx="249.8" cy="223.4" r="2.35"/><circle cx="251.8" cy="225.0" r="2.35"/><circle cx="253.9" cy="225.0" r="2.35"/><circle cx="255.9" cy="225.8" r="2.35"/><circle cx="257.9" cy="226.4" r="2.35"/><circle cx="260.0" cy="226.7" r="2.35"/><circle cx="262.0" cy="227.6" r="2.35"/><circle cx="264.0" cy="227.6" r="2.35"/><circle cx="266.1" cy="229.3" r="2.35"/><circle cx="268.1" cy="229.6" r="2.35"/><circle cx="270.2" cy="230.3" r="2.35"/><circle cx="272.2" cy="231.6" r="2.35"/><circle cx="274.2" cy="230.6" r="2.35"/><circle cx="276.3" cy="231.2" r="2.35"/><circle cx="278.3" cy="231.7" r="2.35"/><circle cx="280.3" cy="232.1" r="2.35"/><circle cx="282.4" cy="232.9" r="2.35"/><circle cx="284.4" cy="233.7" r="2.35"/><circle cx="286.4" cy="233.6" r="2.35"/><circle cx="288.5" cy="234.2" r="2.35"/><circle cx="290.5" cy="234.5" r="2.35"/><circle cx="292.6" cy="234.6" r="2.35"/><circle cx="294.6" cy="235.4" r="2.35"/><circle cx="296.6" cy="236.5" r="2.35"/><circle cx="298.7" cy="235.0" r="2.35"/><circle cx="300.7" cy="236.3" r="2.35"/><circle cx="302.7" cy="236.4" r="2.35"/><circle cx="304.8" cy="237.4" r="2.35"/><circle cx="306.8" cy="237.6" r="2.35"/><circle cx="308.9" cy="238.2" r="2.35"/><circle cx="310.9" cy="239.4" r="2.35"/><circle cx="312.9" cy="239.4" r="2.35"/><circle cx="315.0" cy="239.5" r="2.35"/><circle cx="317.0" cy="240.1" r="2.35"/><circle cx="319.0" cy="239.8" r="2.35"/><circle cx="321.1" cy="240.6" r="2.35"/><circle cx="323.1" cy="240.0" r="2.35"/><circle cx="325.1" cy="241.9" r="2.35"/><circle cx="327.2" cy="242.8" r="2.35"/><circle cx="329.2" cy="241.1" r="2.35"/><circle cx="331.3" cy="242.6" r="2.35"/><circle cx="333.3" cy="243.4" r="2.35"/><circle cx="335.3" cy="243.2" r="2.35"/><circle cx="337.4" cy="243.8" r="2.35"/><circle cx="339.4" cy="243.2" r="2.35"/><circle cx="341.4" cy="244.3" r="2.35"/><circle cx="343.5" cy="244.5" r="2.35"/><circle cx="345.5" cy="243.9" r="2.35"/><circle cx="347.6" cy="244.6" r="2.35"/><circle cx="349.6" cy="245.4" r="2.35"/><circle cx="351.6" cy="245.7" r="2.35"/><circle cx="353.7" cy="245.9" r="2.35"/><circle cx="355.7" cy="246.0" r="2.35"/><circle cx="357.7" cy="246.6" r="2.35"/><circle cx="359.8" cy="246.9" r="2.35"/><circle cx="361.8" cy="246.5" r="2.35"/><circle cx="363.9" cy="246.9" r="2.35"/><circle cx="365.9" cy="246.8" r="2.35"/><circle cx="367.9" cy="247.9" r="2.35"/><circle cx="370.0" cy="247.3" r="2.35"/><circle cx="372.0" cy="247.5" r="2.35"/><circle cx="374.0" cy="248.0" r="2.35"/><circle cx="376.1" cy="248.9" r="2.35"/><circle cx="378.1" cy="248.5" r="2.35"/><circle cx="380.1" cy="248.2" r="2.35"/><circle cx="382.2" cy="248.8" r="2.35"/><circle cx="384.2" cy="249.6" r="2.35"/><circle cx="386.3" cy="249.3" r="2.35"/><circle cx="388.3" cy="249.1" r="2.35"/><circle cx="390.3" cy="249.0" r="2.35"/><circle cx="392.4" cy="249.7" r="2.35"/><circle cx="394.4" cy="250.5" r="2.35"/><circle cx="396.4" cy="249.7" r="2.35"/><circle cx="398.5" cy="250.9" r="2.35"/><circle cx="400.5" cy="250.6" r="2.35"/><circle cx="402.6" cy="251.1" r="2.35"/><circle cx="404.6" cy="251.0" r="2.35"/><circle cx="406.6" cy="251.2" r="2.35"/><circle cx="408.7" cy="251.1" r="2.35"/><circle cx="410.7" cy="252.1" r="2.35"/><circle cx="412.7" cy="252.1" r="2.35"/><circle cx="414.8" cy="252.3" r="2.35"/><circle cx="416.8" cy="252.5" r="2.35"/><circle cx="418.9" cy="251.9" r="2.35"/><circle cx="420.9" cy="252.7" r="2.35"/><circle cx="422.9" cy="252.7" r="2.35"/><circle cx="425.0" cy="252.0" r="2.35"/><circle cx="427.0" cy="252.8" r="2.35"/><circle cx="429.0" cy="253.7" r="2.35"/><circle cx="431.1" cy="253.1" r="2.35"/><circle cx="433.1" cy="252.6" r="2.35"/><circle cx="435.1" cy="252.7" r="2.35"/><circle cx="437.2" cy="253.0" r="2.35"/><circle cx="439.2" cy="253.7" r="2.35"/><circle cx="440.5" cy="254.0" r="2.35"/></g><g font-family="Liberation Sans, sans-serif" font-size="19" fill="#000" stroke="#000" stroke-width="0.25" style="filter:grayscale(1)">
<g text-anchor="end">
<text x="63.3" y="29.2">0.4</text>
<text x="63.3" y="94">0.3</text>
<text x="63.3" y="158.7">0.2</text>
<text x="63.3" y="223.5">0.1</text>
<text x="63.3" y="288.2">0</text>
</g>
<g text-anchor="middle">
<text x="77" y="307">0</text>
<text x="194.5" y="307">4</text>
<text x="312" y="307">8</text>
<text x="429.5" y="307">12</text>
<text x="265.3" y="335">ln t</text>
</g>
<text x="103.6" y="61.3" font-size="19.2">(b)</text>
<g transform="translate(23,177.5) rotate(-90)" font-size="19.5"><text transform="scale(1.1,0.87)">&#948;</text><text x="12.2" y="6.5" font-size="15.5">eff</text><text transform="translate(28.5,0) scale(1.02,0.94)">(t)</text></g>
</g></svg>
</body></html>
